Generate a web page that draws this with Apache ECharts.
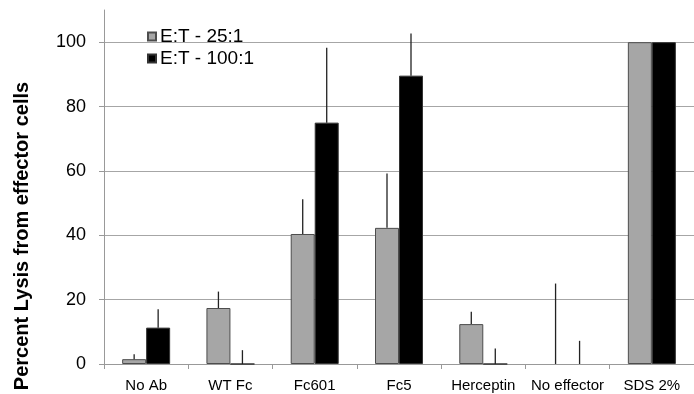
<!DOCTYPE html>
<html>
<head>
<meta charset="utf-8">
<script src="https://cdn.jsdelivr.net/npm/echarts@6/dist/echarts.min.js"></script>
<style>
html,body{margin:0;padding:0;background:#fff;}
#chart{width:694px;height:394px;}
</style>
</head>
<body>
<div id="chart"></div>
<script>
var categories = ['No Ab', 'WT Fc', 'Fc601', 'Fc5', 'Herceptin', 'No effector', 'SDS 2%'];
var seriesNames = ['E:T - 25:1', 'E:T - 100:1'];
var lysis25 = [1.5, 17.4, 40.4, 42.3, 12.4, null, 100];
var err25 = [1.5, 5.1, 10.8, 16.9, 3.8, 25.0, 0];
var lysis100 = [11.3, 0, 75.0, 89.6, 0, null, 100];
var err100 = [5.7, 4.3, 23.3, 13.1, 4.8, 7.2, 0];
var yTicks = [0, 20, 40, 60, 80, 100];
var yTitle = 'Percent Lysis from effector cells';

var FONT = 'Liberation Sans, Arial, sans-serif';
var BAR_W = 24;

function errData(vals, errs) {
  return vals.map(function (v, i) { var b = v == null ? 0 : v; return [i, b, b + errs[i]]; });
}
function errSeries(vals, errs, offsetSign) {
  return {
    type: 'custom',
    data: errData(vals, errs),
    z: 3,
    silent: true,
    renderItem: function (params, api) {
      if (api.value(2) === api.value(1)) return null;
      var lo = api.coord([api.value(0), Math.max(api.value(1), 0)]);
      var hi = api.coord([api.value(0), api.value(2)]);
      var x = lo[0] + offsetSign * BAR_W / 2;
      return {
        type: 'line',
        shape: { x1: x, y1: lo[1], x2: x, y2: hi[1] },
        style: { stroke: '#222', lineWidth: 1.3 }
      };
    }
  };
}

var chart = echarts.init(document.getElementById('chart'), null, { renderer: 'canvas' });
chart.setOption({
  animation: false,
  textStyle: { fontFamily: FONT },
  grid: { left: 104, right: 0, top: 10, bottom: 30, containLabel: false },
  legend: {
    data: seriesNames,
    orient: 'vertical',
    left: 142,
    top: 22,
    itemWidth: 8,
    itemHeight: 8,
    itemGap: 3,
    icon: 'rect',
    textStyle: { fontSize: 19, color: '#000', fontFamily: FONT, padding: [0, 0, 0, -1] }
  },
  xAxis: {
    type: 'category',
    data: categories,
    axisLine: { lineStyle: { color: '#999', width: 1 } },
    axisTick: { show: true, length: 5, lineStyle: { color: '#999' } },
    axisLabel: { fontSize: 15, color: '#000', margin: 14, fontFamily: FONT, interval: 0 }
  },
  yAxis: {
    type: 'value',
    min: 0,
    max: 110,
    interval: 20,
    axisLine: { show: true, lineStyle: { color: '#999', width: 1 } },
    axisTick: { show: true, length: 5, lineStyle: { color: '#999' }, customValues: yTicks },
    axisLabel: { fontSize: 18, color: '#000', margin: 18, fontFamily: FONT, customValues: yTicks },
    splitLine: { show: true, lineStyle: { color: '#a6a6a6', width: 1 } }
  },
  graphic: [{
    type: 'text',
    x: 22,
    y: 236,
    rotation: Math.PI / 2,
    style: {
      text: yTitle,
      fontSize: 20,
      fontWeight: 'bold',
      fontFamily: FONT,
      fill: '#000',
      align: 'center',
      verticalAlign: 'middle'
    }
  }],
  series: [
    {
      name: seriesNames[0],
      type: 'bar',
      data: lysis25,
      barWidth: BAR_W,
      barGap: '0%',
      itemStyle: { color: '#a6a6a6', borderColor: '#4d4d4d', borderWidth: 1 }
    },
    {
      name: seriesNames[1],
      type: 'bar',
      data: lysis100,
      barWidth: BAR_W,
      barGap: '0%',
      itemStyle: { color: '#000', borderColor: '#333', borderWidth: 1 }
    },
    errSeries(lysis25, err25, -1),
    errSeries(lysis100, err100, 1)
  ]
});
</script>
</body>
</html>
